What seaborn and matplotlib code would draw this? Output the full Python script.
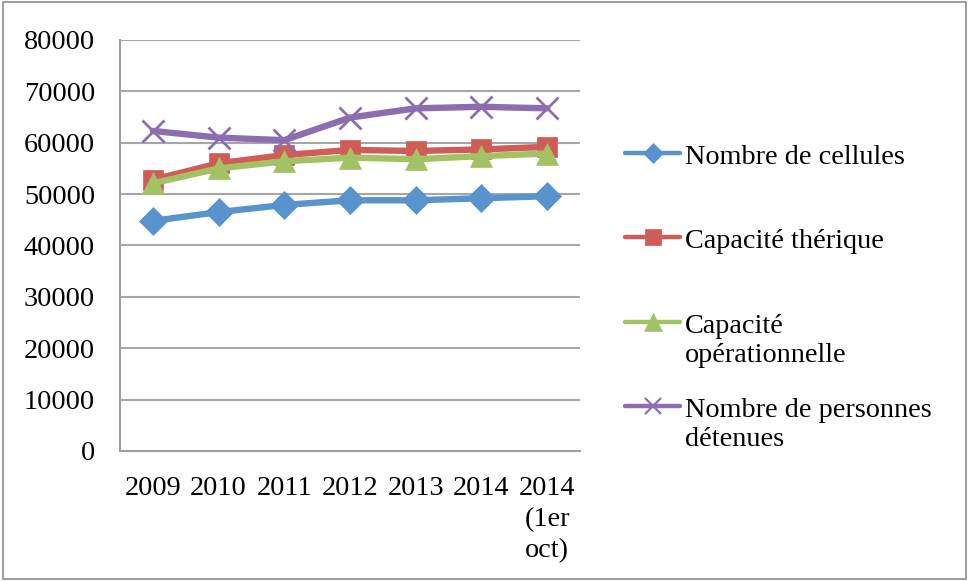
import pandas as pd
import numpy as np
import matplotlib
matplotlib.use("Agg")
import matplotlib.pyplot as plt
from matplotlib.lines import Line2D
import seaborn as sns

# données
annees = ["2009", "2010", "2011", "2012", "2013", "2014", "2014\n(1er\noct)"]
cellules = [44800, 46500, 47900, 48800, 48800, 49200, 49600]
cap_theorique = [52800, 56000, 57600, 58600, 58400, 58700, 59200]
cap_operationnelle = [52100, 55000, 56400, 57100, 56800, 57400, 57900]
detenus = [62300, 61000, 60500, 64900, 66700, 67000, 66700]

series = ["Nombre de cellules", "Capacité thérique",
          "Capacité\nopérationnelle", "Nombre de personnes\ndétenues"]
valeurs = [cellules, cap_theorique, cap_operationnelle, detenus]
couleurs = ["#5893CE", "#CF5C57", "#A3C263", "#8C6EB0"]
marqueurs = ["D", "s", "^", "x"]
tailles = [14, 14, 15.5, 16]
tailles_leg = [10.5, 12, 12.5, 12]

sns.set_style("white")
plt.rcParams['font.family'] = ['Liberation Serif', 'DejaVu Serif']
FS = 20.3

W, H = 969, 581
fig = plt.figure(figsize=(W / 100, H / 100), dpi=100)
ax = fig.add_axes([120 / W, 1 - 451 / H, 460 / W, 411 / H])

for nom, vals, c, m, s in zip(series, valeurs, couleurs, marqueurs, tailles):
    df = pd.DataFrame({"annee": annees, "valeur": vals})
    sns.lineplot(data=df, x="annee", y="valeur", color=c, marker=m, sort=False,
                 linewidth=4.6, markersize=s, markeredgecolor=c,
                 markeredgewidth=2 if m == "x" else 0.5, legend=False, ax=ax)

ax.set_xlim(-0.5, len(annees) - 0.5)
ax.set_ylim(0, 80000)
ax.set_yticks(range(0, 80001, 10000))
ax.set_xticks(range(len(annees)))
ax.set_xticklabels(annees, multialignment="center", linespacing=1.33)
ax.set_xticks(np.arange(-0.5, len(annees), 1), minor=True)
ax.tick_params(axis="x", which="major", length=0, pad=18, labelsize=FS, labelcolor="black")
ax.tick_params(axis="x", which="minor", length=7, width=1.5, color="#A0A0A0", direction="out")
ax.tick_params(axis="y", length=7, width=1.5, color="#A0A0A0", direction="out", pad=11,
               labelsize=FS, labelcolor="black")
ax.grid(axis="y", color="#A6A6A6", linewidth=1.5)
ax.set_axisbelow(True)
ax.set_xlabel("")
ax.set_ylabel("")
for side in ["top", "right"]:
    ax.spines[side].set_visible(False)
for side in ["left", "bottom"]:
    ax.spines[side].set_color("#A0A0A0")
    ax.spines[side].set_linewidth(1.5)

# légende à droite, dessinée entrée par entrée (marqueur aligné sur la 1re ligne)
lignes_base = [164, 248, 333, 417]
for nom, c, m, s, yb in zip(series, couleurs, marqueurs, tailles_leg, lignes_base):
    yh = 1 - (yb - 11.5) / H
    fig.add_artist(Line2D([625 / W, 680 / W], [yh, yh], transform=fig.transFigure,
                          color=c, linewidth=3.2, solid_capstyle="round"))
    fig.add_artist(Line2D([652.5 / W], [yh], transform=fig.transFigure, color=c,
                          marker=m, markersize=s, markeredgecolor=c,
                          markeredgewidth=1.6 if m == "x" else 0.5, linestyle="none"))
    for i, txt in enumerate(nom.split("\n")):
        fig.text(685 / W, 1 - (yb + 28.5 * i) / H, txt, fontsize=FS,
                 ha="left", va="baseline", color="black")

fig.patches.append(plt.Rectangle((0.003, 0.004), 0.994, 0.992, transform=fig.transFigure,
                                 fill=False, edgecolor="#8C8C8C", linewidth=1.2))

fig.savefig("out.png", dpi=100)
